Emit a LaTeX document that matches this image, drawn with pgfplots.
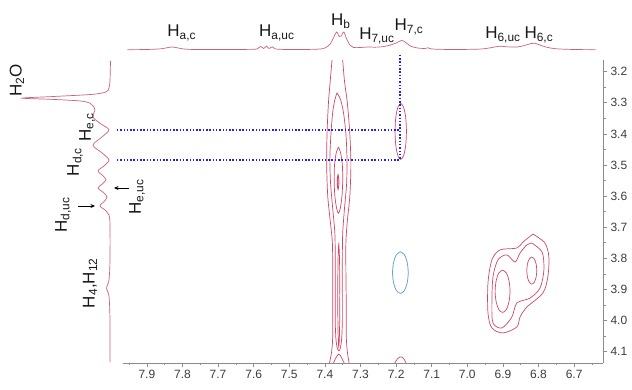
\documentclass[border=0pt]{standalone}
\usepackage{fontspec}
\setmainfont{Liberation Sans}
\usepackage{pgfplots}
\pgfplotsset{compat=1.18}
\usetikzlibrary{arrows.meta}
\definecolor{cont}{RGB}{208,70,102}
\definecolor{spec}{RGB}{200,100,120}
\definecolor{bcont}{RGB}{110,160,210}
\definecolor{dotb}{RGB}{35,35,225}
\definecolor{axgray}{RGB}{140,140,140}
\definecolor{labgray}{RGB}{60,60,60}
\tikzset{lab/.style={font=\fontsize{17}{20}\selectfont, text=black!90, inner sep=0pt}}
\begin{document}
\begin{tikzpicture}
\useasboundingbox (0,0) rectangle (632pt,390pt);
% ---------------- main 2D axis ----------------
\begin{axis}[at={(123pt,27pt)}, anchor=south west, scale only axis,
  width=480pt, height=303pt,
  x dir=reverse, y dir=reverse,
  xmin=6.619, xmax=7.967, ymin=3.1624, ymax=4.1367,
  axis x line*=bottom, axis y line*=right,
  axis line style={axgray, line width=0.6pt, -},
  tick style={axgray, line width=0.6pt},
  tick align=outside, major tick length=4pt, minor tick length=2.5pt,
  xtick={6.7,6.8,6.9,7.0,7.1,7.2,7.3,7.4,7.5,7.6,7.7,7.8,7.9},
  minor xtick={6.65,6.75,6.85,6.95,7.05,7.15,7.25,7.35,7.45,7.55,7.65,7.75,7.85,7.95},
  ytick={3.2,3.3,3.4,3.5,3.6,3.7,3.8,3.9,4.0,4.1},
  minor ytick={3.25,3.35,3.45,3.55,3.65,3.75,3.85,3.95,4.05},
  /pgf/number format/assume math mode=true,
  xticklabel style={/pgf/number format/.cd, fixed, fixed zerofill, precision=1},
  yticklabel style={/pgf/number format/.cd, fixed, fixed zerofill, precision=1},
  ticklabel style={font=\fontsize{12}{14}\selectfont, text=labgray},
  clip=false]
% H_b column, outer contour
\addplot[cont, line width=0.7pt, smooth] coordinates {(7.380,3.1624) (7.385,3.23) (7.390,3.30) (7.394,3.40) (7.395,3.50) (7.392,3.60) (7.385,3.68) (7.379,3.75) (7.378,3.85) (7.378,3.95) (7.378,4.05) (7.381,4.10) (7.387,4.1367)};
\addplot[cont, line width=0.7pt, smooth] coordinates {(7.350,3.1624) (7.345,3.23) (7.337,3.30) (7.330,3.40) (7.327,3.50) (7.330,3.60) (7.337,3.68) (7.341,3.75) (7.341,3.85) (7.340,3.95) (7.340,4.05) (7.337,4.10) (7.332,4.1367)};
% level 2
\addplot[cont, line width=0.7pt, smooth] coordinates {(7.366,3.268) (7.372,3.29) (7.378,3.33) (7.383,3.40) (7.386,3.48) (7.384,3.56) (7.378,3.64) (7.372,3.72) (7.371,3.80) (7.371,3.90) (7.371,4.00) (7.369,4.06) (7.365,4.09) (7.361,4.097) (7.357,4.09) (7.353,4.06) (7.351,4.00) (7.351,3.90) (7.351,3.80) (7.350,3.72) (7.345,3.64) (7.339,3.56) (7.338,3.48) (7.341,3.40) (7.348,3.33) (7.356,3.29) (7.366,3.268)};
% level 3
\addplot[cont, line width=0.7pt, smooth] coordinates {(7.362,3.442) (7.368,3.46) (7.373,3.50) (7.374,3.55) (7.372,3.60) (7.367,3.64) (7.362,3.655) (7.357,3.64) (7.352,3.60) (7.350,3.55) (7.351,3.50) (7.356,3.46) (7.362,3.442)};
\addplot[cont, line width=0.7pt, smooth] coordinates {(7.361,3.75) (7.363,3.80) (7.364,3.92) (7.363,4.04) (7.361,4.085) (7.359,4.04) (7.358,3.92) (7.359,3.80) (7.361,3.75)};
% level 4
\addplot[cont, line width=0.9pt, smooth] coordinates {(7.363,3.530) (7.365,3.545) (7.365,3.565) (7.363,3.578) (7.361,3.565) (7.361,3.545) (7.363,3.530)};
% bottom contour
\addplot[cont, line width=0.7pt, smooth] coordinates {(7.376,4.1367) (7.368,4.118) (7.361,4.108) (7.354,4.118) (7.346,4.1367)};
% H7,c contour
\addplot[cont, line width=0.7pt, smooth] coordinates {(7.187,3.302) (7.195,3.314) (7.2009,3.347) (7.203,3.392) (7.2009,3.437) (7.195,3.470) (7.187,3.482) (7.179,3.470) (7.1731,3.437) (7.171,3.392) (7.1731,3.347) (7.179,3.314) (7.187,3.302)};
\addplot[cont, line width=0.7pt, smooth] coordinates {(7.204,4.1367) (7.195,4.122) (7.187,4.117) (7.179,4.122) (7.172,4.1367)};
% negative (blue) contour
\addplot[bcont, line width=0.8pt, smooth] coordinates {(7.188,3.779) (7.199,3.788) (7.207,3.8125) (7.210,3.846) (7.207,3.8795) (7.199,3.904) (7.188,3.913) (7.177,3.904) (7.169,3.8795) (7.166,3.846) (7.169,3.8125) (7.177,3.788) (7.188,3.779)};
% H6 contours
\addplot[cont, line width=0.7pt, smooth] coordinates {(6.8157,3.722) (6.782,3.751) (6.771,3.796) (6.774,3.860) (6.788,3.912) (6.833,3.957) (6.852,3.989) (6.861,4.021) (6.900,4.040) (6.931,4.024) (6.942,3.976) (6.942,3.879) (6.931,3.805) (6.908,3.773) (6.861,3.767) (6.844,3.748) (6.8157,3.722)};
\addplot[cont, line width=0.7pt, smooth] coordinates {(6.819,3.751) (6.790,3.780) (6.785,3.838) (6.796,3.896) (6.824,3.928) (6.861,3.944) (6.875,3.989) (6.903,4.024) (6.928,4.008) (6.931,3.944) (6.928,3.860) (6.914,3.805) (6.889,3.789) (6.866,3.812) (6.852,3.783) (6.833,3.757) (6.819,3.751)};
\addplot[cont, line width=0.7pt, smooth] coordinates {(6.901,3.838) (6.9115,3.847) (6.919,3.872) (6.922,3.906) (6.919,3.940) (6.9115,3.965) (6.901,3.974) (6.8905,3.965) (6.883,3.940) (6.880,3.906) (6.883,3.872) (6.8905,3.847) (6.901,3.838)};
\addplot[cont, line width=0.7pt, smooth] coordinates {(6.819,3.796) (6.826,3.802) (6.8311,3.818) (6.833,3.8395) (6.8311,3.861) (6.826,3.877) (6.819,3.883) (6.812,3.877) (6.8069,3.861) (6.805,3.8395) (6.8069,3.818) (6.812,3.802) (6.819,3.796)};
% blue dotted guide lines
\addplot[dotb, line width=1.5pt, dash pattern=on 1.5pt off 1.8pt] coordinates {(7.984,3.387) (7.189,3.387)};
\addplot[dotb, line width=1.5pt, dash pattern=on 1.5pt off 1.8pt] coordinates {(7.984,3.484) (7.189,3.484)};
\addplot[dotb, line width=1.5pt, dash pattern=on 1.5pt off 1.8pt] coordinates {(7.189,3.146) (7.189,3.484)};
\end{axis}
% ---------------- top 1D projection ----------------
\begin{axis}[at={(123pt,335pt)}, anchor=south west, scale only axis,
  width=480pt, height=50pt, x dir=reverse,
  xmin=6.619, xmax=7.967, ymin=-5, ymax=45, hide axis, clip=false]
\addplot[spec, line width=0.7pt, smooth] coordinates {
(7.955,0.3) (7.90,0.5) (7.86,1.2) (7.84,2.5) (7.83,3.0) (7.82,2.6) (7.80,1.2) (7.77,0.5) (7.72,0.4) (7.65,0.5)
(7.60,0.7) (7.59,1.2) (7.58,3.5) (7.572,1.5) (7.564,3.8) (7.557,1.5) (7.548,3.2) (7.54,1.2) (7.52,0.6) (7.47,0.5)
(7.42,0.8) (7.40,2.0) (7.385,6) (7.375,13) (7.367,18) (7.360,13.5) (7.354,14) (7.347,18) (7.340,12) (7.330,5)
(7.32,2.5) (7.30,2.5) (7.28,3.0) (7.26,2.8) (7.24,3.2) (7.22,4.5) (7.20,7.0) (7.185,9.5) (7.175,8) (7.16,4)
(7.14,2) (7.12,1.5) (7.11,2.2) (7.10,1.0) (7.05,0.5) (7.00,0.6) (6.96,1.0) (6.93,2.5) (6.91,3.8) (6.89,3.2)
(6.86,3.0) (6.84,4.5) (6.82,6.5) (6.81,6.8) (6.80,5.5) (6.78,3.0) (6.75,1.2) (6.70,0.5) (6.64,0.3)};
\node[lab] at (axis cs:7.802,17) {H\textsubscript{a,c}};
\node[lab] at (axis cs:7.535,17) {H\textsubscript{a,uc}};
\node[lab] at (axis cs:7.355,29) {H\textsubscript{b}};
\node[lab] at (axis cs:7.254,14) {H\textsubscript{7,uc}};
\node[lab] at (axis cs:7.164,23) {H\textsubscript{7,c}};
\node[lab] at (axis cs:6.900,15) {H\textsubscript{6,uc}};
\node[lab] at (axis cs:6.799,15) {H\textsubscript{6,c}};
\end{axis}
% ---------------- left 1D projection ----------------
\begin{axis}[at={(12pt,27pt)}, anchor=south west, scale only axis,
  width=110pt, height=303pt, x dir=reverse, y dir=reverse,
  xmin=-10, xmax=100, ymin=3.1624, ymax=4.1367, hide axis, clip=false]
\addplot[spec, line width=0.7pt, smooth] coordinates {
(1.5,3.165) (2,3.227) (3,3.252) (6,3.265) (20,3.273) (60,3.280) (90,3.285) (60,3.289) (32,3.294) (22,3.301)
(19,3.310) (17,3.323) (19,3.346) (11,3.368) (3,3.387) (10,3.410) (19,3.436) (10,3.461) (3,3.484) (8,3.503)
(14,3.519) (9,3.535) (6,3.548) (10,3.562) (14,3.574) (8,3.590) (5,3.603) (8,3.618) (12,3.632) (6,3.647)
(3,3.661) (2,3.693) (2,3.806) (3,3.870) (5.5,3.896) (3,3.922) (2,3.999) (2,4.135)};
\node[lab, rotate=90] at (axis cs:95,3.227) {H\textsubscript{2}O};
\node[lab, rotate=90] at (axis cs:25,3.378) {H\textsubscript{e,c}};
\node[lab, rotate=90] at (axis cs:37,3.490) {H\textsubscript{d,c}};
\node[lab, rotate=90] at (axis cs:49,3.661) {H\textsubscript{d,uc}};
\node[lab, rotate=90] at (axis cs:-25,3.603) {H\textsubscript{e,uc}};
\node[lab, rotate=90] at (axis cs:22,3.880) {H\textsubscript{4},H\textsubscript{12}};
\end{axis}
% annotation arrows
\draw[black, line width=0.7pt, -{Stealth[length=4.5pt,width=4pt]}] (78pt,184pt) -- (95pt,184pt);
\draw[black, line width=0.7pt, -{Stealth[length=4.5pt,width=4pt]}] (129pt,202pt) -- (114pt,202pt);
\end{tikzpicture}
\end{document}
